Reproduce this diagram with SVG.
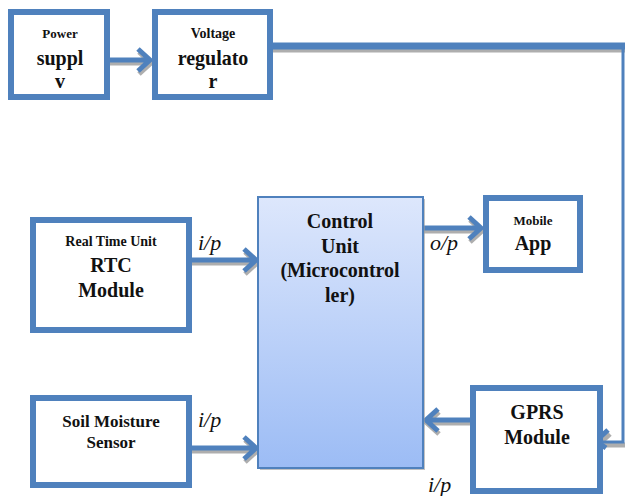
<svg xmlns="http://www.w3.org/2000/svg" width="625" height="496" viewBox="0 0 625 496">
<defs>
<linearGradient id="cg" x1="0" y1="0" x2="0" y2="1">
<stop offset="0" stop-color="#dde7fc"/>
<stop offset="1" stop-color="#9cbcf5"/>
</linearGradient>
<style>
.box{fill:#fff;stroke:#4f81bd;stroke-width:6}
.t{font-weight:bold;fill:#111;text-anchor:middle}
.lbl{font-style:italic;font-size:22px;fill:#111}
.arr{fill:none;stroke:#4f81bd;stroke-width:5;stroke-linejoin:miter}
.sh{fill:none;stroke:#9a9a9a;stroke-width:5;opacity:0.8}
</style>
</defs>
<rect width="625" height="496" fill="#fff"/>
<g id="connectors" font-family="Liberation Serif, DejaVu Serif, Times New Roman, serif">
<path class="sh" d="M110 63 H150 M139 52 L151 63 L139 74"/>
<path class="sh" d="M273 50 H625"/>
<path class="sh" d="M192 263 H256 M245 252 L257 263 L245 274"/>
<path class="sh" d="M192 451 H256 M245 440 L257 451 L245 462"/>
<path class="sh" d="M423 231 H481 M470 220 L482 231 L470 242"/>
<path class="sh" d="M470 423 H428 M439 412 L427 423 L439 434"/>
<path class="sh" d="M625 445 H600 M610 434 L598 445"/>
<path class="arr" d="M108 60 H150 M138 49 L150 60 L138 71"/>
<path d="M273 46 H625" stroke="#4f81bd" stroke-width="7" fill="none"/>
<path d="M623 46 V442 H600" stroke="#4f81bd" stroke-width="3" fill="none"/>
<path class="arr" d="M608 430 L596 441 L606 448"/>
<path class="arr" d="M190 260 H256 M244 249 L256 260 L244 271"/>
<path class="arr" d="M190 448 H256 M244 437 L256 448 L244 459"/>
<path class="arr" d="M423 228 H481 M469 217 L481 228 L469 239"/>
<path class="arr" d="M472 420 H426 M438 409 L426 420 L438 431"/>
<text class="lbl" x="198" y="250">i/p</text>
<text class="lbl" x="198" y="427">i/p</text>
<text class="lbl" x="430" y="250">o/p</text>
<text class="lbl" x="428" y="492">i/p</text>
</g>
<g id="power" font-family="Liberation Serif, DejaVu Serif, Times New Roman, serif">
<rect class="box" x="11" y="12" width="96" height="85"/>
<text class="t" x="60" y="38" font-size="13">Power</text>
<text class="t" x="60" y="65" font-size="20">suppl</text>
<text class="t" x="60" y="88" font-size="20">v</text>
</g>
<g id="regulator" font-family="Liberation Serif, DejaVu Serif, Times New Roman, serif">
<rect class="box" x="155" y="12" width="115" height="85"/>
<text class="t" x="213" y="38" font-size="14">Voltage</text>
<text class="t" x="213" y="65" font-size="20">regulato</text>
<text class="t" x="213" y="88" font-size="20">r</text>
</g>
<g id="control" font-family="Liberation Serif, DejaVu Serif, Times New Roman, serif">
<rect x="260" y="199" width="165" height="271" fill="#999" opacity="0.6"/>
<rect x="258" y="197" width="165" height="271" fill="url(#cg)" stroke="#4f81bd" stroke-width="2"/>
<text class="t" x="340" y="228" font-size="20">Control</text>
<text class="t" x="340" y="253" font-size="20">Unit</text>
<text class="t" x="340" y="277" font-size="20">(Microcontrol</text>
<text class="t" x="340" y="302" font-size="20">ler)</text>
</g>
<g id="mobile" font-family="Liberation Serif, DejaVu Serif, Times New Roman, serif">
<rect class="box" x="486" y="198" width="94" height="72"/>
<text class="t" x="533" y="225" font-size="13">Mobile</text>
<text class="t" x="533" y="250" font-size="20">App</text>
</g>
<g id="rtc" font-family="Liberation Serif, DejaVu Serif, Times New Roman, serif">
<rect class="box" x="33" y="220" width="156" height="110"/>
<text class="t" x="111" y="246" font-size="14">Real Time Unit</text>
<text class="t" x="111" y="272" font-size="20">RTC</text>
<text class="t" x="111" y="297" font-size="20">Module</text>
</g>
<g id="soil" font-family="Liberation Serif, DejaVu Serif, Times New Roman, serif">
<rect class="box" x="33" y="398" width="156" height="87"/>
<text class="t" x="111" y="427" font-size="17">Soil Moisture</text>
<text class="t" x="111" y="448" font-size="17">Sensor</text>
</g>
<g id="gprs" font-family="Liberation Serif, DejaVu Serif, Times New Roman, serif">
<rect class="box" x="473" y="388" width="127" height="103"/>
<text class="t" x="537" y="419" font-size="20">GPRS</text>
<text class="t" x="537" y="444" font-size="20">Module</text>
</g>
</svg>
